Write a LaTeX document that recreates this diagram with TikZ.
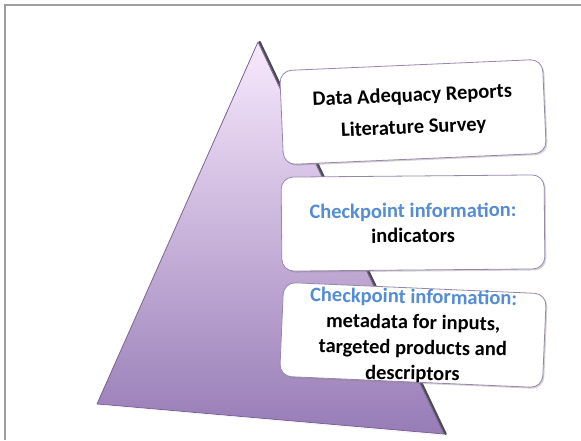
\documentclass[tikz,border=0pt]{standalone}
\usepackage{fontspec}
\setmainfont{Carlito}
\usetikzlibrary{shadows}

\definecolor{pyrtop}{RGB}{248,233,253}
\definecolor{pyrmid}{RGB}{192,168,218}
\definecolor{pyrbot}{RGB}{151,124,182}
\definecolor{pyredge}{RGB}{120,100,150}
\definecolor{ckblue}{RGB}{84,141,212}
\definecolor{boxedge}{RGB}{150,135,175}

\tikzset{
    infobox/.style={draw=boxedge, line width=0.8pt, fill=white, rounded corners=12pt,
        minimum width=263pt, minimum height=94pt, align=center,
        font=\fontsize{20.5}{25}\selectfont\bfseries,
        drop shadow={opacity=0.35, shadow xshift=1.5pt, shadow yshift=-1.5pt}},
    boxtext/.style={align=center, inner sep=0pt, font=\fontsize{20.5}{25.5}\selectfont\bfseries}
}

\begin{document}
\begin{tikzpicture}[x=1pt, y=-1pt]
    \useasboundingbox (0,0) rectangle (581,440);
    \draw[gray!75, line width=1.2pt] (5,440) -- (5,5) -- (581,5);

    \coordinate (apex) at (258,42);
    \coordinate (left) at (97,404);
    \coordinate (right) at (444,434);

    \draw[black!70, line width=2.4pt, line cap=round] ([xshift=1.6pt]apex) -- ([xshift=1.6pt]right);
    \shade[top color=pyrtop, middle color=pyrmid, bottom color=pyrbot]
        (apex) -- (left) -- (right) -- cycle;
    \draw[pyredge, line width=0.8pt, line join=round] (apex) -- (left) -- (right) -- cycle;
    \draw[white!80!pyrmid, line width=0.6pt] ([xshift=2.5pt,yshift=-1pt]left) -- ([yshift=-1.5pt]right);

    \node[infobox, rotate=2.5] (reports) at (413,112)
        {Data Adequacy Reports\\[7pt] Literature Survey};
    \node[infobox, rotate=0.5] (indic) at (413,223)
        {\textcolor{ckblue}{Checkpoint information:}\\ indicators};
    \node[infobox, rotate=-2.5] (meta) at (413,335) {};
    \node[boxtext, rotate=-1] (metatext) at ([yshift=-1pt]meta.center)
        {\textcolor{ckblue}{Checkpoint information:}\\ metadata for inputs,\\ targeted products and\\ descriptors};
\end{tikzpicture}
\end{document}
